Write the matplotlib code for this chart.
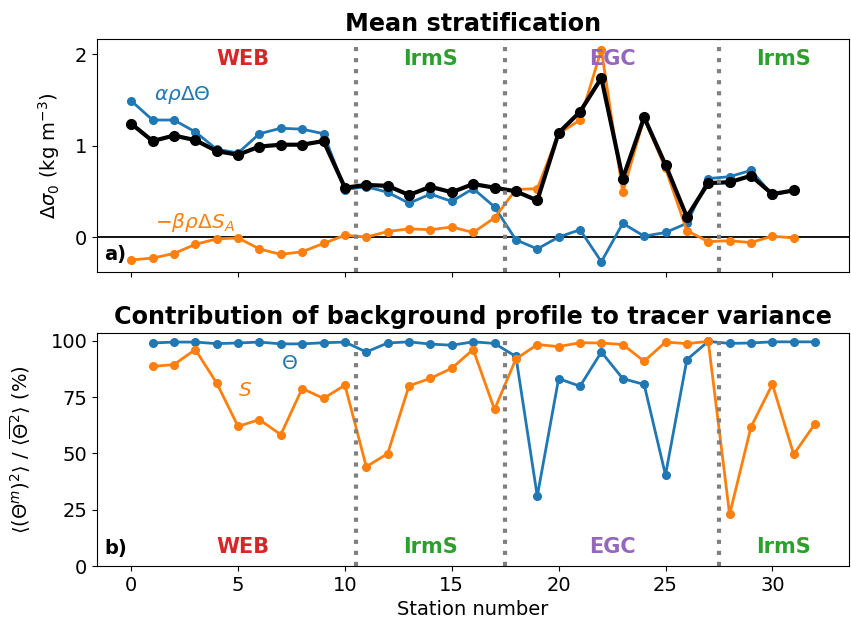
import numpy as np
import matplotlib
matplotlib.use("Agg")
import matplotlib.pyplot as plt

# station numbers
stations_a = np.arange(0, 32)
stations_b = np.arange(1, 33)

# a) mean stratification (kg m-3)
temp_contrib = [1.49, 1.28, 1.28, 1.15, 0.96, 0.92, 1.13, 1.19, 1.18, 1.13,
                0.52, 0.55, 0.49, 0.37, 0.47, 0.39, 0.53, 0.33, -0.03, -0.13,
                0.00, 0.08, -0.27, 0.15, 0.01, 0.05, 0.15, 0.64, 0.66, 0.73,
                0.46, 0.51]
salt_contrib = [-0.25, -0.23, -0.18, -0.08, -0.02, -0.01, -0.13, -0.19, -0.16, -0.07,
                0.02, 0.00, 0.06, 0.09, 0.08, 0.11, 0.05, 0.21, 0.52, 0.53,
                1.13, 1.28, 2.05, 0.49, 1.30, 0.75, 0.07, -0.05, -0.04, -0.06,
                0.01, -0.01]
total_strat = [1.24, 1.05, 1.11, 1.06, 0.94, 0.90, 0.99, 1.01, 1.01, 1.05,
               0.54, 0.57, 0.56, 0.46, 0.55, 0.49, 0.58, 0.54, 0.50, 0.40,
               1.14, 1.37, 1.74, 0.64, 1.31, 0.79, 0.22, 0.59, 0.60, 0.67,
               0.47, 0.51]

# b) background contribution (%)
theta_frac = [99.0, 99.4, 99.4, 98.7, 99.0, 99.4, 98.6, 98.6, 99.1, 99.4,
              95.0, 99.0, 99.5, 98.5, 98.0, 99.5, 98.8, 93.0, 31.0, 83.2,
              79.8, 95.0, 83.2, 80.6, 40.4, 91.6, 99.7, 98.8, 99.0, 99.5,
              99.5, 99.5]
salt_frac = [88.6, 89.4, 96.1, 81.2, 62.0, 65.0, 58.3, 78.8, 74.4, 80.3,
             44.1, 49.9, 80.0, 83.3, 87.8, 96.1, 69.5, 91.9, 98.3, 97.4,
             99.1, 99.0, 98.3, 90.9, 99.4, 98.7, 99.7, 22.9, 61.7, 80.7,
             49.6, 63.2]

boundaries = [10.5, 17.5, 27.5]
regions = ["WEB", "IrmS", "EGC", "IrmS"]
region_x = [5.25, 14.0, 22.5, 30.5]
region_colors = ["tab:red", "tab:green", "tab:purple", "tab:green"]

plt.rcParams['font.size'] = 14

fig = plt.figure(figsize=(8.51, 6.29), dpi=100)
ax1 = fig.add_axes([0.114, 0.567, 0.884, 0.371])
ax2 = fig.add_axes([0.114, 0.100, 0.884, 0.371], sharex=ax1)

# top panel
ax1.axhline(0, color='k', lw=1.3, zorder=1)
ax1.plot(stations_a, temp_contrib, 'o-', color='tab:blue', lw=2, ms=5.5)
ax1.plot(stations_a, salt_contrib, 'o-', color='tab:orange', lw=2, ms=5.5)
ax1.plot(stations_a, total_strat, 'o-', color='k', lw=3, ms=7)
for b in boundaries:
    ax1.axvline(b, color='grey', ls=':', lw=3)
for name, xr, c in zip(regions, region_x, region_colors):
    ax1.text(xr, 0.955, name, color=c, fontweight='bold', fontsize=15,
             ha='center', va='top', transform=ax1.get_xaxis_transform())
ax1.text(1.05, 1.50, r"$\alpha\rho\Delta\Theta$", color='tab:blue', fontsize=14.5)
ax1.text(1.1, 0.10, r"$-\beta\rho\Delta S_A$", color='tab:orange', fontsize=14.5)
ax1.text(0.01, 0.035, "a)", fontweight='bold', fontsize=14,
         transform=ax1.transAxes, ha='left', va='bottom')
ax1.set_yticks([0, 1, 2])
ax1.set_ylabel(r"$\Delta\sigma_0$ (kg m$^{-3}$)")
ax1.set_title("Mean stratification", fontweight='bold', fontsize=17.2)
ax1.tick_params(labelbottom=False)

# bottom panel
ax2.plot(stations_b, theta_frac, 'o-', color='tab:blue', lw=2, ms=5.5)
ax2.plot(stations_b, salt_frac, 'o-', color='tab:orange', lw=2, ms=5.5)
for b in boundaries:
    ax2.axvline(b, color='grey', ls=':', lw=3)
for name, xr, c in zip(regions, region_x, region_colors):
    ax2.text(xr, 0.04, name, color=c, fontweight='bold', fontsize=15,
             ha='center', va='bottom', transform=ax2.get_xaxis_transform())
ax2.text(7.42, 89.7, r"$\Theta$", color='tab:blue', fontsize=14.5, ha='center', va='center')
ax2.text(5.32, 77.7, r"$S$", color='tab:orange', fontsize=14.5, ha='center', va='center')
ax2.text(0.01, 0.035, "b)", fontweight='bold', fontsize=14,
         transform=ax2.transAxes, ha='left', va='bottom')
ax2.set_ylim(bottom=0)
ax2.set_yticks([0, 25, 50, 75, 100])
ax2.set_ylabel(r"$\langle(\Theta^m)^2\rangle$ / $\langle\overline{\Theta}^2\rangle$ (%)")
ax2.set_xlabel("Station number")
ax2.set_title("Contribution of background profile to tracer variance",
              fontweight='bold', fontsize=17.2)

# y label positions (axes fraction)
ax1.yaxis.set_label_coords(-0.047, 0.5)
ax2.yaxis.set_label_coords(-0.085, 0.5)

fig.savefig("out.png", dpi=100)
